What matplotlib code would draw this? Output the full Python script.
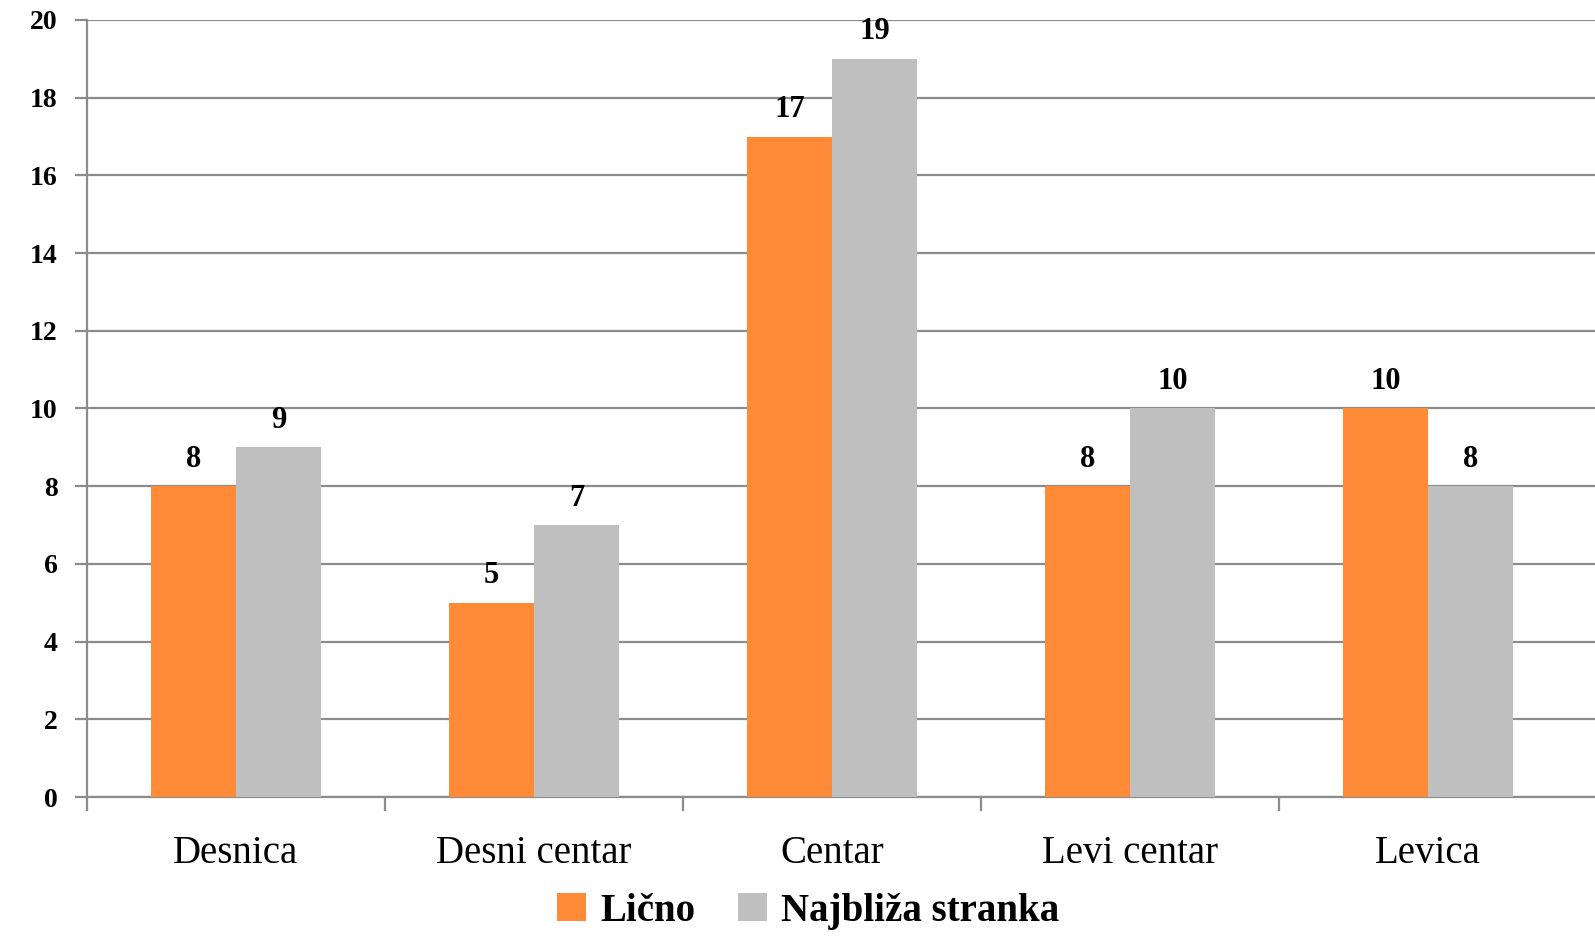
import matplotlib
matplotlib.use("Agg")
import matplotlib.pyplot as plt
import numpy as np

categories = ["Desnica", "Desni centar", "Centar", "Levi centar", "Levica"]
licno = [8, 5, 17, 8, 10]
najbliza = [9, 7, 19, 10, 8]
series_names = ["Lično", "Najbliža stranka"]
yticks = [0, 2, 4, 6, 8, 10, 12, 14, 16, 18, 20]

orange = "#FF8A37"
grey = "#BFBFBF"
gridc = "#8C8C8C"

plt.rcParams['font.family'] = ['Liberation Serif', 'DejaVu Serif']

fig = plt.figure(figsize=(15.95, 9.46), dpi=100)
ax = fig.add_axes([87/1595, (946-797)/946, 1 - 87/1595, (797-20)/946])

x = np.arange(len(categories))
w = 85/298
b1 = ax.bar(x - w/2, licno, width=w, color=orange, zorder=3, label=series_names[0])
b2 = ax.bar(x + w/2, najbliza, width=w, color=grey, zorder=3, label=series_names[1])

for rects, vals in ((b1, licno), (b2, najbliza)):
    for r, v in zip(rects, vals):
        ax.annotate(str(v), (r.get_x() + r.get_width()/2, v), xytext=(0, 9),
                    textcoords="offset points", ha="center", va="bottom",
                    fontsize=22, fontweight="bold", color="black")

ax.set_ylim(0, 20)
ax.set_xlim(-0.5, (1595-236)/298)
ax.set_yticks(yticks)
ax.set_yticklabels([str(t) for t in yticks], fontsize=20, fontweight="bold")
ax.yaxis.grid(True, color=gridc, linewidth=1.6, zorder=0)

ax.set_xticks(np.arange(len(categories)) - 0.5)
ax.set_xticklabels([])
ax.set_xticks(x, minor=True)
ax.set_xticklabels(categories, minor=True, fontsize=28)
ax.tick_params(axis='x', which='major', direction='out', length=10, width=1.6, color=gridc)
ax.tick_params(axis='x', which='minor', length=0, pad=27)
ax.tick_params(axis='y', direction='out', length=9, width=1.6, color=gridc, pad=12)

for s in ("top", "right"):
    ax.spines[s].set_visible(False)
for s in ("left", "bottom"):
    ax.spines[s].set_color(gridc)
    ax.spines[s].set_linewidth(1.6)

leg = fig.legend(handles=[b1, b2], loc="center", bbox_to_anchor=(808/1595, 1 - 911/946),
                 ncol=2, frameon=False, prop={'size': 28, 'weight': 'bold'},
                 handlelength=0.75, handleheight=0.75, handletextpad=0.35, columnspacing=1.1)

fig.savefig("out.png", dpi=100)
